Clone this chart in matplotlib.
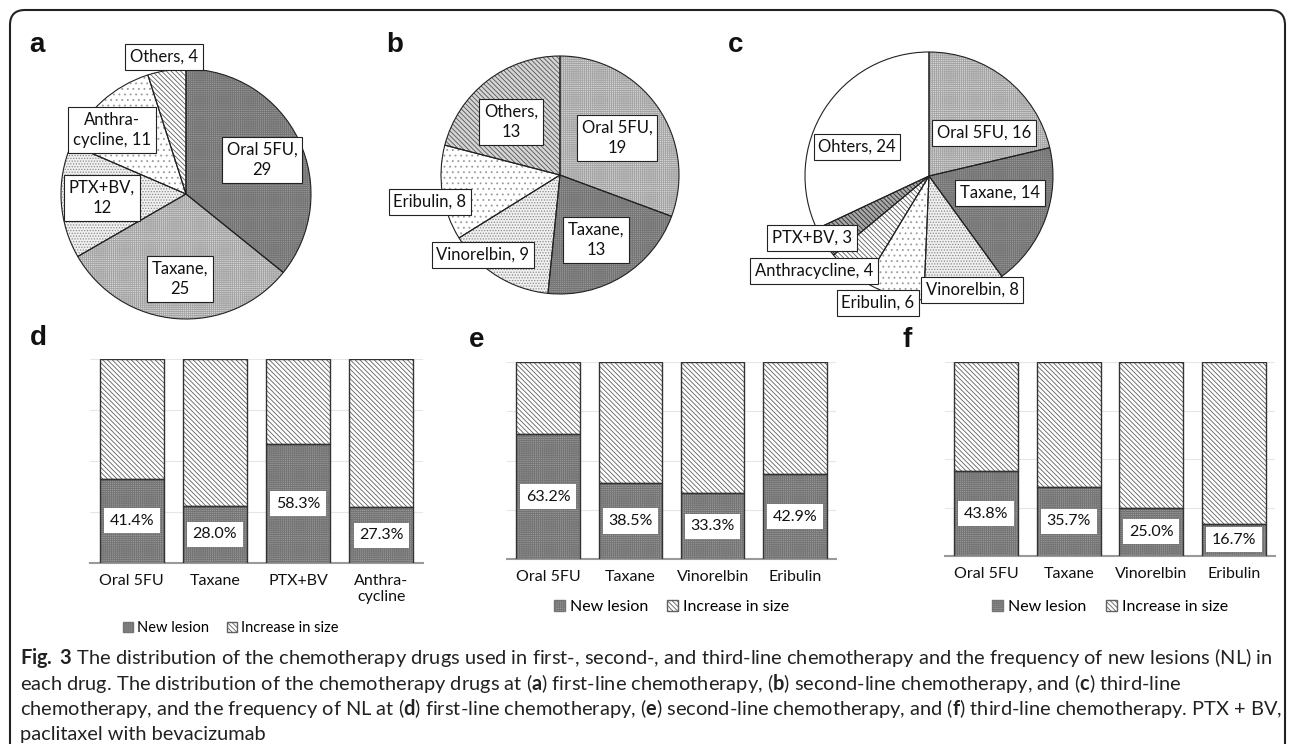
import matplotlib
matplotlib.use('Agg')
import matplotlib.pyplot as plt
from matplotlib.patches import FancyBboxPatch, Patch
import numpy as np

W, H = 1292, 744

plt.rcParams['font.family'] = ['Lato', 'DejaVu Sans']
plt.rcParams['hatch.linewidth'] = 0.6
plt.rcParams['mathtext.fontset'] = 'custom'
plt.rcParams['mathtext.rm'] = 'Lato'
plt.rcParams['mathtext.bf'] = 'Lato:bold'

# ---- data ----
pie_a_labels = ['Oral 5FU,\n29', 'Taxane,\n25', 'PTX+BV,\n12', 'Anthra-\ncycline, 11', 'Others, 4']
pie_a_values = [29, 25, 12, 11, 4]

pie_b_labels = ['Oral 5FU,\n19', 'Taxane,\n13', 'Vinorelbin, 9', 'Eribulin, 8', 'Others,\n13']
pie_b_values = [19, 13, 9, 8, 13]

pie_c_labels = ['Oral 5FU, 16', 'Taxane, 14', 'Vinorelbin, 8', 'Eribulin, 6',
                'Anthracycline, 4', 'PTX+BV, 3', 'Ohters, 24']
pie_c_values = [16, 14, 8, 6, 4, 3, 24]

bar_d_cats = ['Oral 5FU', 'Taxane', 'PTX+BV', 'Anthra-\ncycline']
bar_d_new = [41.4, 28.0, 58.3, 27.3]

bar_e_cats = ['Oral 5FU', 'Taxane', 'Vinorelbin', 'Eribulin']
bar_e_new = [63.2, 38.5, 33.3, 42.9]

bar_f_cats = ['Oral 5FU', 'Taxane', 'Vinorelbin', 'Eribulin']
bar_f_new = [43.8, 35.7, 25.0, 16.7]

legend_labels = ['New lesion', 'Increase in size']

# fill patterns: face colour, hatch colour, hatch
PAT = {
    'dark': ('#989898', '#747474', '++++++++'),
    'light': ('#d8d8d8', '#a4a4a4', '++++++++'),
    'dots': ('#f0f0f0', '#8a8a8a', '......'),
    'sparse': ('#ffffff', '#9a9a9a', '...'),
    'diag': ('#ffffff', '#606060', '\\\\\\\\\\\\\\'),
    'diaggray': ('#d4d4d4', '#555555', '\\\\\\\\\\\\\\'),
    'diagdark': ('#a8a8a8', '#2a2a2a', '\\\\\\\\\\\\\\'),
    'white': ('#ffffff', '#ffffff', ''),
}

fig = plt.figure(figsize=(W / 100, H / 100), dpi=100)


def draw_pie(cx, cy, r, values, labels, styles, label_px):
    ax = fig.add_axes([(cx - r) / W, 1 - (cy + r) / H, 2 * r / W, 2 * r / H])
    wedges, _ = ax.pie(values, startangle=90, counterclock=False, radius=1,
                       wedgeprops=dict(linewidth=0))
    for w, s in zip(wedges, styles):
        face, hc, hatch = PAT[s]
        w.set_facecolor(face)
        w.set_edgecolor(hc)
        w.set_hatch(hatch)
    ax.pie(values, startangle=90, counterclock=False, radius=1,
           wedgeprops=dict(fill=False, edgecolor='#222222', linewidth=0.8))
    for lab, (px, py) in zip(labels, label_px):
        ax.text((px - cx) / r, (cy - py) / r, lab, ha='center', va='center',
                fontsize=12, linespacing=1.3, color='#111111', clip_on=False, zorder=5,
                bbox=dict(boxstyle='square,pad=0.28', fc='white', ec='#222222', lw=0.8))
    ax.set_xlim(-1, 1)
    ax.set_ylim(-1, 1)
    ax.axis('off')


def draw_bars(x0, x1, ybase, ytop, cats, new, leg_pos, leg_fs):
    ax = fig.add_axes([x0 / W, 1 - ybase / H, (x1 - x0) / W, (ybase - ytop) / H])
    x = np.arange(len(cats))
    inc = [100 - v for v in new]
    fd, hd, pd_ = PAT['dark']
    fi, hi, pi = PAT['diag']
    ax.bar(x, new, 0.77, color=fd, edgecolor=hd, hatch=pd_, lw=0, zorder=2)
    ax.bar(x, inc, 0.77, bottom=new, color=fi, edgecolor=hi, hatch=pi, lw=0, zorder=2)
    ax.bar(x, new, 0.77, fill=False, edgecolor='#333333', lw=1, zorder=3)
    ax.bar(x, inc, 0.77, bottom=new, fill=False, edgecolor='#333333', lw=1, zorder=3)
    for i, v in enumerate(new):
        ax.text(i, v / 2, f'{v:.1f}%', ha='center', va='center', fontsize=11.5,
                color='#111111', zorder=4,
                bbox=dict(boxstyle='square,pad=0.35', fc='white', ec='none'))
    ax.set_xlim(-0.5, len(cats) - 0.5)
    ax.set_ylim(0, 100)
    ax.set_yticks([25, 50, 75, 100])
    ax.yaxis.grid(True, color='#e6e6e6', lw=0.8)
    ax.set_axisbelow(True)
    ax.set_xticks(x)
    ax.set_xticklabels(cats, fontsize=11.5, color='#111111', linespacing=1.15)
    ax.tick_params(axis='x', length=0, pad=8)
    ax.tick_params(axis='y', length=0, labelleft=False)
    for s in ['top', 'right', 'left']:
        ax.spines[s].set_visible(False)
    ax.spines['bottom'].set_color('#9a9a9a')
    ax.spines['bottom'].set_linewidth(1.5)
    handles = [Patch(facecolor=fd, edgecolor=hd, hatch=pd_),
               Patch(facecolor=fi, edgecolor=hi, hatch=pi)]
    ax.legend(handles, legend_labels, loc='center', bbox_to_anchor=leg_pos, ncol=2,
              frameon=False, fontsize=leg_fs, handlelength=0.7, handleheight=0.7,
              handletextpad=0.3, columnspacing=1.2, borderpad=0)


# pies
draw_pie(186, 194, 125, pie_a_values, pie_a_labels,
         ['dark', 'light', 'dots', 'sparse', 'diag'],
         [(262, 160), (180, 279), (102, 198), (112, 130), (164, 57)])
draw_pie(560, 175, 119, pie_b_values, pie_b_labels,
         ['light', 'dark', 'dots', 'sparse', 'diaggray'],
         [(617, 138), (596, 240), (483, 255), (430, 202), (511, 122)])
draw_pie(929, 176, 124, pie_c_values, pie_c_labels,
         ['light', 'dark', 'dots', 'sparse', 'diag', 'diagdark', 'white'],
         [(984, 133), (1000, 193), (972, 290), (878, 303), (814, 271), (812, 238), (857, 147)])

# bars
draw_bars(90, 423, 563, 359, bar_d_cats, bar_d_new, (0.423, -0.32), 10.5)
draw_bars(507, 836, 559, 362, bar_e_cats, bar_e_new, (0.5, -0.244), 11.5)
draw_bars(945, 1275, 556, 362, bar_f_cats, bar_f_new, (0.5, -0.263), 11.5)

# panel letters
for lt, (px, py) in zip('abcdef', [(37, 45), (395, 45), (736, 45), (38, 338), (477, 340), (907, 340)]):
    fig.text(px / W, 1 - py / H, lt, ha='center', va='center', fontsize=20,
             fontweight='bold', family='Liberation Sans', color='#111111')

# caption
caption = [
    r"$\mathbf{Fig.\:3}$ The distribution of the chemotherapy drugs used in first-, second-, and third-line chemotherapy and the frequency of new lesions (NL) in",
    r"each drug. The distribution of the chemotherapy drugs at ($\mathbf{a}$) first-line chemotherapy, ($\mathbf{b}$) second-line chemotherapy, and ($\mathbf{c}$) third-line",
    r"chemotherapy, and the frequency of NL at ($\mathbf{d}$) first-line chemotherapy, ($\mathbf{e}$) second-line chemotherapy, and ($\mathbf{f}$) third-line chemotherapy. PTX + BV,",
    "paclitaxel with bevacizumab",
]
for i, line in enumerate(caption):
    fig.text(20 / W, 1 - (658 + 25.5 * i) / H, line, ha='left', va='center',
             fontsize=14.4, color='#222222')

# rounded frame, open at the bottom edge
frame = FancyBboxPatch((0.10, -0.5), 12.75, 7.84,
                       boxstyle='round,pad=0,rounding_size=0.15',
                       transform=fig.dpi_scale_trans, fill=False,
                       edgecolor='#222222', lw=1.5)
fig.add_artist(frame)

fig.savefig('out.png', dpi=100)
